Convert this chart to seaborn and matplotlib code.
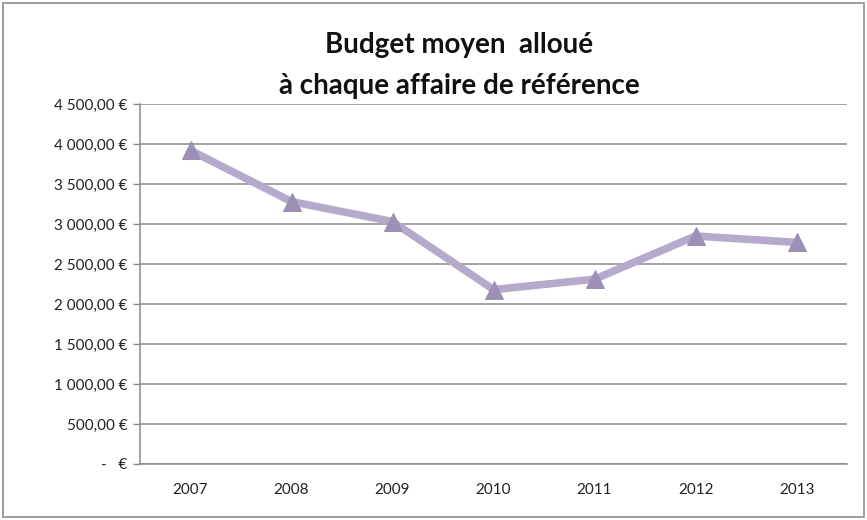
import numpy as np
import pandas as pd
import matplotlib
matplotlib.use("Agg")
import matplotlib.pyplot as plt
import seaborn as sns
from matplotlib.patches import Rectangle
from matplotlib.ticker import FuncFormatter, FixedLocator

# Données
annees = ["2007", "2008", "2009", "2010", "2011", "2012", "2013"]
budget = [3920, 3280, 3030, 2180, 2310, 2850, 2770]

df = pd.DataFrame({"annee": annees, "budget": budget})

sns.set_style("white")
plt.rcParams["font.family"] = ["Lato", "DejaVu Sans"]

fig = plt.figure(figsize=(8.67, 5.2), dpi=100)
ax = fig.add_axes([0.1615, 0.1077, 0.8155, 0.6923])

# Cadre gris autour du graphique
fig.patches.append(Rectangle((0.004, 0.006), 0.992, 0.988, transform=fig.transFigure,
                             fill=False, edgecolor="#8c8c8c", linewidth=1.2))

# Courbe
sns.lineplot(data=df, x="annee", y="budget", ax=ax, color="#b5aacb", linewidth=5.5,
             marker="^", markersize=13, markerfacecolor="#9d8fb6",
             markeredgecolor="#9d8fb6", zorder=3)

ax.set_ylim(0, 4500)
ax.set_xlim(-0.5, 6.5)
ax.set_yticks(np.arange(0, 4501, 500))

def fmt_euro(v, pos):
    if v == 0:
        return "-   €"
    return f"{v:,.2f}".replace(",", " ").replace(".", ",") + " €"

ax.yaxis.set_major_formatter(FuncFormatter(fmt_euro))
ax.yaxis.grid(True, color="#8a8a8a", linewidth=1.1)
ax.xaxis.grid(False)

# Graduations de l'axe des x entre les catégories
ax.xaxis.set_minor_locator(FixedLocator(np.arange(-0.5, 7.0, 1.0)))
ax.tick_params(axis="x", which="major", length=0, pad=14, labelsize=11, colors="#222222")
ax.tick_params(axis="x", which="minor", length=5, width=1, color="#8a8a8a", direction="out")
ax.tick_params(axis="y", length=5, width=1, color="#8a8a8a", direction="out", pad=4,
               labelsize=11, labelcolor="#222222")
ax.tick_params(left=True, bottom=True)

for s in ["top", "right"]:
    ax.spines[s].set_visible(False)
for s in ["left", "bottom"]:
    ax.spines[s].set_color("#8a8a8a")
    ax.spines[s].set_linewidth(1.1)

ax.set_xlabel("")
ax.set_ylabel("")

fig.text(0.53, 0.913, "Budget moyen  alloué", ha="center", va="center",
         fontsize=20, fontweight="bold", color="#111111")
fig.text(0.53, 0.835, "à chaque affaire de référence", ha="center", va="center",
         fontsize=20, fontweight="bold", color="#111111")

fig.savefig("out.png", dpi=100)
